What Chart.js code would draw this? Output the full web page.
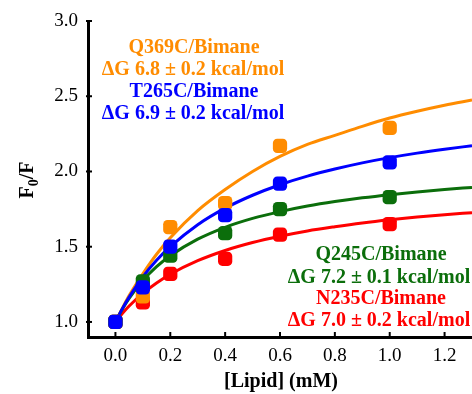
<!DOCTYPE html>
<html>
<head>
<meta charset="utf-8">
<script src="https://cdn.jsdelivr.net/npm/chart.js@4"></script>
<style>
  body { margin: 0; background: #fff; }
</style>
</head>
<body>
<canvas id="chart" width="472" height="394"></canvas>
<script>
// measured points
const lipid = [0, 0.1, 0.2, 0.4, 0.6, 1.0];
const q369c = [1.00, 1.17, 1.63, 1.79, 2.17, 2.29];
const t265c = [1.00, 1.23, 1.50, 1.71, 1.92, 2.06];
const q245c = [1.00, 1.27, 1.44, 1.59, 1.75, 1.83];
const n235c = [1.00, 1.13, 1.32, 1.42, 1.58, 1.65];

// fitted curves
const fitX = [0, 0.025, 0.05, 0.1, 0.15, 0.2, 0.3, 0.4, 0.5, 0.6, 0.7, 0.8, 0.9, 1.0, 1.1, 1.2, 1.3];
const q369cFit = [1.00, 1.09, 1.175, 1.32, 1.45, 1.56, 1.74, 1.88, 2.00, 2.10, 2.18, 2.24, 2.30, 2.355, 2.40, 2.44, 2.475];
const t265cFit = [1.00, 1.087, 1.165, 1.30, 1.41, 1.50, 1.646, 1.756, 1.842, 1.912, 1.969, 2.016, 2.057, 2.092, 2.122, 2.148, 2.171];
const q245cFit = [1.00, 1.085, 1.157, 1.275, 1.367, 1.44, 1.55, 1.629, 1.688, 1.733, 1.77, 1.80, 1.825, 1.846, 1.864, 1.88, 1.894];
const n235cFit = [1.00, 1.056, 1.106, 1.19, 1.259, 1.317, 1.407, 1.475, 1.528, 1.57, 1.605, 1.633, 1.658, 1.679, 1.697, 1.713, 1.726];

const xTicks = [0, 0.2, 0.4, 0.6, 0.8, 1.0, 1.2];
const yTicks = [1.0, 1.5, 2.0, 2.5, 3.0];

const ORANGE = '#ff8c00';
const BLUE = '#0000ff';
const GREEN = '#0b6e0b';
const RED = '#ff0000';

const SERIF = '"Liberation Serif", "Times New Roman", serif';

function pts(xs, ys) {
    return xs.map((x, i) => ({ x: x, y: ys[i] }));
}

function pointSet(label, ys, color, order) {
    return {
        label: label,
        data: pts(lipid, ys),
        showLine: false,
        pointStyle: 'rectRounded',
        pointRadius: 8.3,
        backgroundColor: color,
        borderColor: color,
        borderWidth: 0,
        clip: false,
        order: order
    };
}

function curveSet(label, ys, color, order) {
    return {
        label: label,
        data: pts(fitX, ys),
        showLine: true,
        pointRadius: 0,
        borderColor: color,
        borderWidth: 3,
        tension: 0.4,
        cubicInterpolationMode: 'monotone',
        order: order
    };
}

// tick marks, axis titles and the coloured notes
const extras = {
    id: 'extras',
    afterDraw(chart) {
        const ctx = chart.ctx;
        const area = chart.chartArea;
        const xs = chart.scales.x;
        const ys = chart.scales.y;
        ctx.save();
        ctx.strokeStyle = '#000';
        ctx.lineWidth = 2;
        xTicks.forEach(v => {
            const px = xs.getPixelForValue(v);
            ctx.beginPath();
            ctx.moveTo(px, area.bottom);
            ctx.lineTo(px, area.bottom - 5);
            ctx.stroke();
        });
        yTicks.forEach(v => {
            const py = ys.getPixelForValue(v);
            ctx.beginPath();
            ctx.moveTo(area.left - 2, py);
            ctx.lineTo(area.left + 4, py);
            ctx.stroke();
        });

        // x title
        ctx.fillStyle = '#000';
        ctx.font = 'bold 20px ' + SERIF;
        ctx.textAlign = 'center';
        ctx.textBaseline = 'alphabetic';
        ctx.fillText('[Lipid] (mM)', 281, 387);

        // y title F0/F with subscript
        ctx.save();
        ctx.translate(33, 180);
        ctx.rotate(-Math.PI / 2);
        ctx.textAlign = 'left';
        ctx.font = 'bold 20px ' + SERIF;
        const wF = ctx.measureText('F').width;
        ctx.font = 'bold 14px ' + SERIF;
        const w0 = ctx.measureText('0').width;
        ctx.font = 'bold 20px ' + SERIF;
        const wRest = ctx.measureText('/F').width;
        let start = -(wF + w0 + wRest) / 2;
        ctx.fillText('F', start, 0);
        ctx.font = 'bold 14px ' + SERIF;
        ctx.fillText('0', start + wF, 5);
        ctx.font = 'bold 20px ' + SERIF;
        ctx.fillText('/F', start + wF + w0, 0);
        ctx.restore();

        // notes
        ctx.font = 'bold 20px ' + SERIF;
        ctx.textAlign = 'center';
        const notes = [
            ['Q369C/Bimane', ORANGE, 194, 53],
            ['\u0394G 6.8 \u00b1 0.2 kcal/mol', ORANGE, 193, 75],
            ['T265C/Bimane', BLUE, 194, 97],
            ['\u0394G 6.9 \u00b1 0.2 kcal/mol', BLUE, 193, 119],
            ['Q245C/Bimane', GREEN, 381, 260],
            ['\u0394G 7.2 \u00b1 0.1 kcal/mol', GREEN, 379, 283],
            ['N235C/Bimane', RED, 381, 304],
            ['\u0394G 7.0 \u00b1 0.2 kcal/mol', RED, 379, 326]
        ];
        notes.forEach(n => {
            ctx.fillStyle = n[1];
            ctx.fillText(n[0], n[2], n[3]);
        });
        ctx.restore();
    }
};

const ctx = document.getElementById('chart').getContext('2d');
const chart = new Chart(ctx, {
    type: 'scatter',
    data: {
        datasets: [
            pointSet('T265C', t265c, BLUE, 0),
            pointSet('Q245C', q245c, GREEN, 1),
            pointSet('Q369C', q369c, ORANGE, 2),
            pointSet('N235C', n235c, RED, 3),
            curveSet('T265C fit', t265cFit, BLUE, 10),
            curveSet('Q245C fit', q245cFit, GREEN, 11),
            curveSet('Q369C fit', q369cFit, ORANGE, 12),
            curveSet('N235C fit', n235cFit, RED, 13)
        ]
    },
    options: {
        responsive: false,
        animation: false,
        devicePixelRatio: 1,
        layout: { autoPadding: false, padding: { top: 21, right: 0, left: 0, bottom: 0 } },
        plugins: {
            legend: { display: false },
            tooltip: { enabled: false }
        },
        scales: {
            x: {
                type: 'linear',
                min: -0.1,
                max: 1.3,
                afterFit: (scale) => {
                    scale.height = 57;
                    scale.paddingLeft = 0;
                    scale.paddingRight = 0;
                },
                afterBuildTicks: (scale) => { scale.ticks = xTicks.map(v => ({ value: v })); },
                grid: { display: false, drawTicks: false },
                border: { display: true, color: '#000', width: 3 },
                ticks: {
                    padding: 8,
                    color: '#000',
                    font: { family: SERIF, size: 19 },
                    callback: (v) => Number(v).toFixed(1)
                }
            },
            y: {
                type: 'linear',
                min: 0.9,
                max: 3.0,
                afterFit: (scale) => {
                    scale.width = 88;
                    scale.paddingTop = 0;
                    scale.paddingBottom = 0;
                },
                afterBuildTicks: (scale) => { scale.ticks = yTicks.map(v => ({ value: v })); },
                grid: { display: false, drawTicks: false },
                border: { display: true, color: '#000', width: 3 },
                ticks: {
                    padding: 10,
                    color: '#000',
                    font: { family: SERIF, size: 19 },
                    callback: (v) => Number(v).toFixed(1)
                }
            }
        }
    },
    plugins: [extras]
});
</script>
</body>
</html>
